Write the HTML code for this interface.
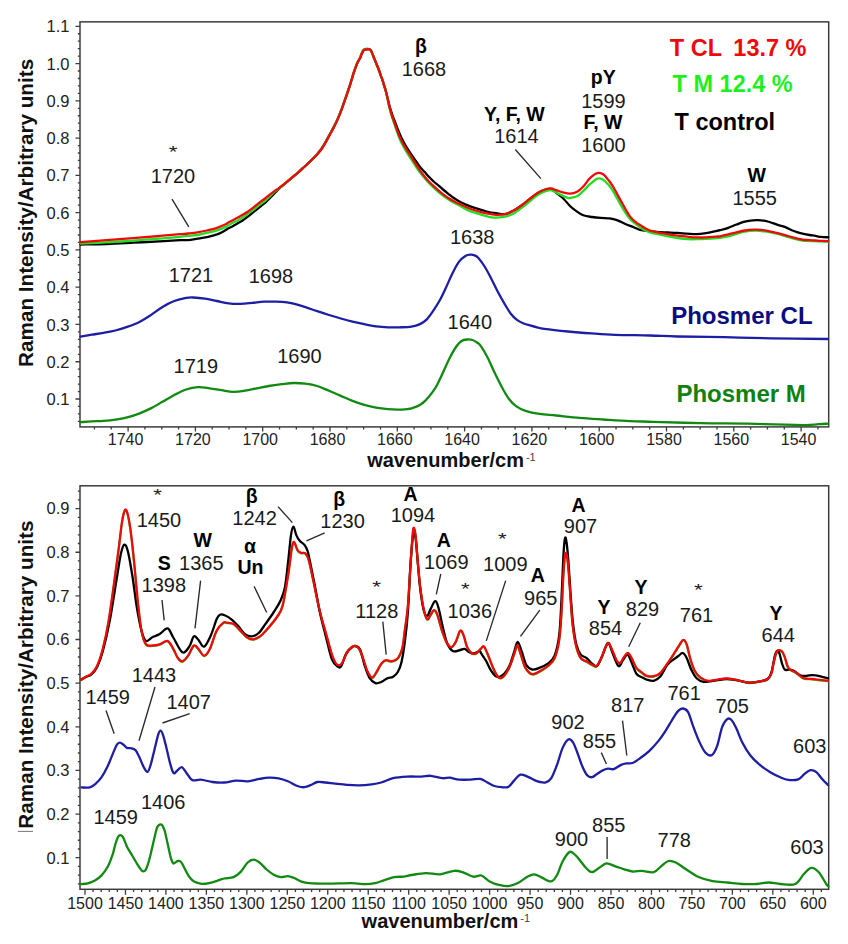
<!DOCTYPE html><html><head><meta charset="utf-8"><style>html,body{margin:0;padding:0;background:#fff;}svg{display:block}text{font-family:"Liberation Sans",sans-serif;}</style></head><body>
<svg width="848" height="944" viewBox="0 0 848 944">
<rect width="848" height="944" fill="#fff"/>
<path d="M77.80 421.36H80.00M77.80 413.91H80.00M77.80 406.45H80.00M75.50 399.00H80.00M77.80 391.55H80.00M77.80 384.09H80.00M77.80 376.64H80.00M77.80 369.18H80.00M75.50 361.73H80.00M77.80 354.28H80.00M77.80 346.82H80.00M77.80 339.37H80.00M77.80 331.91H80.00M75.50 324.46H80.00M77.80 317.01H80.00M77.80 309.55H80.00M77.80 302.10H80.00M77.80 294.64H80.00M75.50 287.19H80.00M77.80 279.74H80.00M77.80 272.28H80.00M77.80 264.83H80.00M77.80 257.37H80.00M75.50 249.92H80.00M77.80 242.47H80.00M77.80 235.01H80.00M77.80 227.56H80.00M77.80 220.10H80.00M75.50 212.65H80.00M77.80 205.20H80.00M77.80 197.74H80.00M77.80 190.29H80.00M77.80 182.83H80.00M75.50 175.38H80.00M77.80 167.93H80.00M77.80 160.47H80.00M77.80 153.02H80.00M77.80 145.56H80.00M75.50 138.11H80.00M77.80 130.66H80.00M77.80 123.20H80.00M77.80 115.75H80.00M77.80 108.29H80.00M75.50 100.84H80.00M77.80 93.39H80.00M77.80 85.93H80.00M77.80 78.48H80.00M77.80 71.02H80.00M75.50 63.57H80.00M77.80 56.12H80.00M77.80 48.66H80.00M77.80 41.21H80.00M77.80 33.75H80.00M75.50 26.30H80.00M94.45 426.90V429.40M111.27 426.90V429.40M128.10 426.90V431.40M144.92 426.90V429.40M161.75 426.90V429.40M178.57 426.90V429.40M195.40 426.90V431.40M212.22 426.90V429.40M229.05 426.90V429.40M245.88 426.90V429.40M262.70 426.90V431.40M279.52 426.90V429.40M296.35 426.90V429.40M313.18 426.90V429.40M330.00 426.90V431.40M346.82 426.90V429.40M363.65 426.90V429.40M380.48 426.90V429.40M397.30 426.90V431.40M414.12 426.90V429.40M430.95 426.90V429.40M447.77 426.90V429.40M464.60 426.90V431.40M481.43 426.90V429.40M498.25 426.90V429.40M515.08 426.90V429.40M531.90 426.90V431.40M548.73 426.90V429.40M565.55 426.90V429.40M582.38 426.90V429.40M599.20 426.90V431.40M616.03 426.90V429.40M632.85 426.90V429.40M649.67 426.90V429.40M666.50 426.90V431.40M683.33 426.90V429.40M700.15 426.90V429.40M716.98 426.90V429.40M733.80 426.90V431.40M750.62 426.90V429.40M767.45 426.90V429.40M784.28 426.90V429.40M801.10 426.90V431.40M817.92 426.90V429.40M77.80 883.90H80.00M77.80 875.18H80.00M77.80 866.45H80.00M75.50 857.72H80.00M77.80 848.99H80.00M77.80 840.26H80.00M77.80 831.54H80.00M77.80 822.81H80.00M75.50 814.08H80.00M77.80 805.35H80.00M77.80 796.62H80.00M77.80 787.90H80.00M77.80 779.17H80.00M75.50 770.44H80.00M77.80 761.71H80.00M77.80 752.98H80.00M77.80 744.26H80.00M77.80 735.53H80.00M75.50 726.80H80.00M77.80 718.07H80.00M77.80 709.34H80.00M77.80 700.62H80.00M77.80 691.89H80.00M75.50 683.16H80.00M77.80 674.43H80.00M77.80 665.70H80.00M77.80 656.98H80.00M77.80 648.25H80.00M75.50 639.52H80.00M77.80 630.79H80.00M77.80 622.06H80.00M77.80 613.34H80.00M77.80 604.61H80.00M75.50 595.88H80.00M77.80 587.15H80.00M77.80 578.42H80.00M77.80 569.70H80.00M77.80 560.97H80.00M75.50 552.24H80.00M77.80 543.51H80.00M77.80 534.78H80.00M77.80 526.06H80.00M77.80 517.33H80.00M75.50 508.60H80.00M77.80 499.87H80.00M77.80 491.14H80.00M85.00 889.30V894.80M93.09 889.30V892.00M101.18 889.30V892.00M109.28 889.30V892.00M117.37 889.30V892.00M125.46 889.30V894.80M133.55 889.30V892.00M141.64 889.30V892.00M149.74 889.30V892.00M157.83 889.30V892.00M165.92 889.30V894.80M174.01 889.30V892.00M182.10 889.30V892.00M190.20 889.30V892.00M198.29 889.30V892.00M206.38 889.30V894.80M214.47 889.30V892.00M222.56 889.30V892.00M230.66 889.30V892.00M238.75 889.30V892.00M246.84 889.30V894.80M254.93 889.30V892.00M263.02 889.30V892.00M271.12 889.30V892.00M279.21 889.30V892.00M287.30 889.30V894.80M295.39 889.30V892.00M303.48 889.30V892.00M311.58 889.30V892.00M319.67 889.30V892.00M327.76 889.30V894.80M335.85 889.30V892.00M343.94 889.30V892.00M352.04 889.30V892.00M360.13 889.30V892.00M368.22 889.30V894.80M376.31 889.30V892.00M384.40 889.30V892.00M392.50 889.30V892.00M400.59 889.30V892.00M408.68 889.30V894.80M416.77 889.30V892.00M424.86 889.30V892.00M432.96 889.30V892.00M441.05 889.30V892.00M449.14 889.30V894.80M457.23 889.30V892.00M465.32 889.30V892.00M473.42 889.30V892.00M481.51 889.30V892.00M489.60 889.30V894.80M497.69 889.30V892.00M505.78 889.30V892.00M513.88 889.30V892.00M521.97 889.30V892.00M530.06 889.30V894.80M538.15 889.30V892.00M546.24 889.30V892.00M554.34 889.30V892.00M562.43 889.30V892.00M570.52 889.30V894.80M578.61 889.30V892.00M586.70 889.30V892.00M594.80 889.30V892.00M602.89 889.30V892.00M610.98 889.30V894.80M619.07 889.30V892.00M627.16 889.30V892.00M635.26 889.30V892.00M643.35 889.30V892.00M651.44 889.30V894.80M659.53 889.30V892.00M667.62 889.30V892.00M675.72 889.30V892.00M683.81 889.30V892.00M691.90 889.30V894.80M699.99 889.30V892.00M708.08 889.30V892.00M716.18 889.30V892.00M724.27 889.30V892.00M732.36 889.30V894.80M740.45 889.30V892.00M748.54 889.30V892.00M756.64 889.30V892.00M764.73 889.30V892.00M772.82 889.30V894.80M780.91 889.30V892.00M789.00 889.30V892.00M797.10 889.30V892.00M805.19 889.30V892.00M813.28 889.30V894.80M821.37 889.30V892.00" stroke="#3c3c3c" stroke-width="1.3" fill="none"/>
<rect x="80.00" y="21.85" width="748.70" height="405.05" fill="none" stroke="#3c3c3c" stroke-width="1.5"/>
<rect x="80.00" y="485.80" width="748.70" height="403.50" fill="none" stroke="#3c3c3c" stroke-width="1.5"/>
<text x="69.4" y="405.10" text-anchor="end" font-size="16.5" fill="#222">0.1</text>
<text x="69.4" y="367.83" text-anchor="end" font-size="16.5" fill="#222">0.2</text>
<text x="69.4" y="330.56" text-anchor="end" font-size="16.5" fill="#222">0.3</text>
<text x="69.4" y="293.29" text-anchor="end" font-size="16.5" fill="#222">0.4</text>
<text x="69.4" y="256.02" text-anchor="end" font-size="16.5" fill="#222">0.5</text>
<text x="69.4" y="218.75" text-anchor="end" font-size="16.5" fill="#222">0.6</text>
<text x="69.4" y="181.48" text-anchor="end" font-size="16.5" fill="#222">0.7</text>
<text x="69.4" y="144.21" text-anchor="end" font-size="16.5" fill="#222">0.8</text>
<text x="69.4" y="106.94" text-anchor="end" font-size="16.5" fill="#222">0.9</text>
<text x="69.4" y="69.67" text-anchor="end" font-size="16.5" fill="#222">1.0</text>
<text x="69.4" y="32.40" text-anchor="end" font-size="16.5" fill="#222">1.1</text>
<text x="125.60" y="445.1" text-anchor="middle" font-size="16" fill="#222">1740</text>
<text x="192.90" y="445.1" text-anchor="middle" font-size="16" fill="#222">1720</text>
<text x="260.20" y="445.1" text-anchor="middle" font-size="16" fill="#222">1700</text>
<text x="327.50" y="445.1" text-anchor="middle" font-size="16" fill="#222">1680</text>
<text x="394.80" y="445.1" text-anchor="middle" font-size="16" fill="#222">1660</text>
<text x="462.10" y="445.1" text-anchor="middle" font-size="16" fill="#222">1640</text>
<text x="529.40" y="445.1" text-anchor="middle" font-size="16" fill="#222">1620</text>
<text x="596.70" y="445.1" text-anchor="middle" font-size="16" fill="#222">1600</text>
<text x="664.00" y="445.1" text-anchor="middle" font-size="16" fill="#222">1580</text>
<text x="731.30" y="445.1" text-anchor="middle" font-size="16" fill="#222">1560</text>
<text x="798.60" y="445.1" text-anchor="middle" font-size="16" fill="#222">1540</text>
<text x="69.4" y="863.52" text-anchor="end" font-size="16.5" fill="#222">0.1</text>
<text x="69.4" y="819.88" text-anchor="end" font-size="16.5" fill="#222">0.2</text>
<text x="69.4" y="776.24" text-anchor="end" font-size="16.5" fill="#222">0.3</text>
<text x="69.4" y="732.60" text-anchor="end" font-size="16.5" fill="#222">0.4</text>
<text x="69.4" y="688.96" text-anchor="end" font-size="16.5" fill="#222">0.5</text>
<text x="69.4" y="645.32" text-anchor="end" font-size="16.5" fill="#222">0.6</text>
<text x="69.4" y="601.68" text-anchor="end" font-size="16.5" fill="#222">0.7</text>
<text x="69.4" y="558.04" text-anchor="end" font-size="16.5" fill="#222">0.8</text>
<text x="69.4" y="514.40" text-anchor="end" font-size="16.5" fill="#222">0.9</text>
<text x="85.00" y="908.6" text-anchor="middle" font-size="16" fill="#222">1500</text>
<text x="125.46" y="908.6" text-anchor="middle" font-size="16" fill="#222">1450</text>
<text x="165.92" y="908.6" text-anchor="middle" font-size="16" fill="#222">1400</text>
<text x="206.38" y="908.6" text-anchor="middle" font-size="16" fill="#222">1350</text>
<text x="246.84" y="908.6" text-anchor="middle" font-size="16" fill="#222">1300</text>
<text x="287.30" y="908.6" text-anchor="middle" font-size="16" fill="#222">1250</text>
<text x="327.76" y="908.6" text-anchor="middle" font-size="16" fill="#222">1200</text>
<text x="368.22" y="908.6" text-anchor="middle" font-size="16" fill="#222">1150</text>
<text x="408.68" y="908.6" text-anchor="middle" font-size="16" fill="#222">1100</text>
<text x="449.14" y="908.6" text-anchor="middle" font-size="16" fill="#222">1050</text>
<text x="489.60" y="908.6" text-anchor="middle" font-size="16" fill="#222">1000</text>
<text x="530.06" y="908.6" text-anchor="middle" font-size="16" fill="#222">950</text>
<text x="570.52" y="908.6" text-anchor="middle" font-size="16" fill="#222">900</text>
<text x="610.98" y="908.6" text-anchor="middle" font-size="16" fill="#222">850</text>
<text x="651.44" y="908.6" text-anchor="middle" font-size="16" fill="#222">800</text>
<text x="691.90" y="908.6" text-anchor="middle" font-size="16" fill="#222">750</text>
<text x="732.36" y="908.6" text-anchor="middle" font-size="16" fill="#222">700</text>
<text x="772.82" y="908.6" text-anchor="middle" font-size="16" fill="#222">650</text>
<text x="813.28" y="908.6" text-anchor="middle" font-size="16" fill="#222">600</text>
<text x="367.2" y="466.9" font-size="20" font-weight="bold" fill="#111">wavenumber/cm<tspan font-size="11" font-weight="normal" fill="#444" dx="2" dy="-6.3">-1</tspan></text>
<text x="361.6" y="928.2" font-size="20" font-weight="bold" fill="#111">wavenumber/cm<tspan font-size="11" font-weight="normal" fill="#444" dx="2" dy="-6.3">-1</tspan></text>
<text transform="translate(32.8 212.9) rotate(-90)" text-anchor="middle" font-size="20.7" font-weight="bold" fill="#111">Raman Intensity/Arbitrary units</text>
<text transform="translate(32.8 674.6) rotate(-90)" text-anchor="middle" font-size="20.7" font-weight="bold" fill="#111">Raman Intensity/Arbitrary units</text>
<path d="M17.8 831.4H33" stroke="#777" stroke-width="1"/>
<path d="M80.50 422.20 C82.38 422.07 87.95 421.62 91.80 421.40 C95.65 421.18 99.67 421.18 103.60 420.90 C107.53 420.62 111.47 420.28 115.40 419.70 C119.33 419.12 123.27 418.42 127.20 417.40 C131.13 416.38 135.07 415.10 139.00 413.60 C142.93 412.10 146.88 410.37 150.80 408.40 C154.72 406.43 158.58 404.03 162.50 401.80 C166.42 399.57 170.37 397.05 174.30 395.00 C178.23 392.95 182.17 390.80 186.10 389.50 C190.03 388.20 193.97 387.40 197.90 387.20 C201.83 387.00 205.77 387.80 209.70 388.30 C213.63 388.80 217.57 389.60 221.50 390.20 C225.43 390.80 229.37 391.82 233.30 391.90 C237.23 391.98 241.17 391.30 245.10 390.70 C249.03 390.10 252.97 389.08 256.90 388.30 C260.83 387.52 264.55 386.68 268.70 386.00 C272.85 385.32 277.65 384.70 281.80 384.20 C285.95 383.70 289.67 383.08 293.60 383.00 C297.53 382.92 301.47 383.20 305.40 383.70 C309.33 384.20 313.27 384.82 317.20 386.00 C321.13 387.18 325.07 389.15 329.00 390.80 C332.93 392.45 336.88 394.22 340.80 395.90 C344.72 397.58 348.58 399.40 352.50 400.90 C356.42 402.40 360.37 403.77 364.30 404.90 C368.23 406.03 372.17 406.98 376.10 407.70 C380.03 408.42 383.97 408.88 387.90 409.20 C391.83 409.52 395.77 409.73 399.70 409.60 C403.63 409.47 407.57 409.58 411.50 408.40 C415.43 407.22 419.37 405.83 423.30 402.50 C427.23 399.17 431.95 393.12 435.10 388.40 C438.25 383.68 439.85 379.12 442.20 374.20 C444.55 369.28 446.85 363.52 449.20 358.90 C451.55 354.28 454.25 349.48 456.30 346.50 C458.35 343.52 459.72 342.17 461.50 341.00 C463.28 339.83 465.18 339.67 467.00 339.50 C468.82 339.33 470.73 339.50 472.40 340.00 C474.07 340.50 475.62 341.52 477.00 342.50 C478.38 343.48 478.92 343.37 480.70 345.90 C482.48 348.43 485.35 353.17 487.70 357.70 C490.05 362.23 492.43 368.18 494.80 373.10 C497.17 378.02 499.53 382.88 501.90 387.20 C504.27 391.52 506.65 395.85 509.00 399.00 C511.35 402.15 513.25 404.13 516.00 406.10 C518.75 408.07 521.57 409.50 525.50 410.80 C529.43 412.10 534.50 413.12 539.60 413.90 C544.70 414.68 549.42 414.83 556.10 415.50 C562.78 416.17 571.83 417.23 579.70 417.90 C587.57 418.57 594.92 418.97 603.30 419.50 C611.68 420.03 621.62 420.72 630.00 421.10 C638.38 421.48 641.80 421.45 653.60 421.80 C665.40 422.15 685.08 422.88 700.80 423.20 C716.52 423.52 732.20 423.42 747.90 423.70 C763.60 423.98 785.17 424.67 795.00 424.90 C804.83 425.13 802.95 425.22 806.90 425.10 C810.85 424.98 815.18 424.43 818.70 424.20 C822.22 423.97 826.45 423.78 828.00 423.70" stroke="#108a10" stroke-width="2.30" fill="none" stroke-linejoin="round" stroke-linecap="round"/>
<path d="M80.50 336.60 C82.38 336.28 87.95 335.33 91.80 334.70 C95.65 334.07 99.67 333.50 103.60 332.80 C107.53 332.10 111.47 331.48 115.40 330.50 C119.33 329.52 123.27 328.28 127.20 326.90 C131.13 325.52 135.07 324.17 139.00 322.20 C142.93 320.23 146.88 317.65 150.80 315.10 C154.72 312.55 158.58 309.25 162.50 306.90 C166.42 304.55 170.37 302.50 174.30 301.00 C178.23 299.50 182.95 298.48 186.10 297.90 C189.25 297.32 190.05 297.38 193.20 297.50 C196.35 297.62 201.07 298.02 205.00 298.60 C208.93 299.18 212.87 300.22 216.80 301.00 C220.73 301.78 224.67 302.83 228.60 303.30 C232.53 303.77 236.47 303.87 240.40 303.80 C244.33 303.73 248.27 303.25 252.20 302.90 C256.13 302.55 260.03 301.92 264.00 301.70 C267.97 301.48 272.17 301.50 276.00 301.60 C279.83 301.70 284.07 301.95 287.00 302.30 C289.93 302.65 290.53 302.88 293.60 303.70 C296.67 304.52 301.47 305.95 305.40 307.20 C309.33 308.45 313.27 309.90 317.20 311.20 C321.13 312.50 325.07 313.78 329.00 315.00 C332.93 316.22 336.88 317.40 340.80 318.50 C344.72 319.60 348.58 320.65 352.50 321.60 C356.42 322.55 360.37 323.42 364.30 324.20 C368.23 324.98 372.17 325.78 376.10 326.30 C380.03 326.82 383.97 327.13 387.90 327.30 C391.83 327.47 395.77 327.42 399.70 327.30 C403.63 327.18 408.12 327.13 411.50 326.60 C414.88 326.07 417.50 325.27 420.00 324.10 C422.50 322.93 424.33 321.77 426.50 319.60 C428.67 317.43 430.83 314.23 433.00 311.10 C435.17 307.97 437.35 304.68 439.50 300.80 C441.65 296.92 443.75 292.35 445.90 287.80 C448.05 283.25 450.23 277.82 452.40 273.50 C454.57 269.18 456.73 264.82 458.90 261.90 C461.07 258.98 463.45 257.20 465.40 256.00 C467.35 254.80 469.08 254.80 470.60 254.70 C472.12 254.60 473.20 254.85 474.50 255.40 C475.80 255.95 476.67 256.07 478.40 258.00 C480.13 259.93 482.75 263.55 484.90 267.00 C487.05 270.45 489.15 274.58 491.30 278.70 C493.45 282.82 495.63 287.58 497.80 291.70 C499.97 295.82 502.13 299.73 504.30 303.40 C506.47 307.07 508.63 310.90 510.80 313.70 C512.97 316.50 515.13 318.57 517.30 320.20 C519.47 321.83 521.68 322.63 523.80 323.50 C525.92 324.37 527.80 324.77 530.00 325.40 C532.20 326.03 534.62 326.72 537.00 327.30 C539.38 327.88 539.15 328.20 544.30 328.90 C549.45 329.60 560.03 330.75 567.90 331.50 C575.77 332.25 583.63 332.85 591.50 333.40 C599.37 333.95 605.35 334.45 615.10 334.80 C624.85 335.15 639.65 335.22 650.00 335.50 C660.35 335.78 664.82 336.22 677.20 336.50 C689.58 336.78 708.58 336.90 724.30 337.20 C740.02 337.50 754.22 338.00 771.50 338.30 C788.78 338.60 818.58 338.88 828.00 339.00" stroke="#1e1ea4" stroke-width="2.30" fill="none" stroke-linejoin="round" stroke-linecap="round"/>
<path d="M80.50 244.50 C84.83 244.42 97.73 244.30 106.50 244.00 C115.27 243.70 124.25 243.15 133.10 242.70 C141.95 242.25 151.78 241.72 159.60 241.30 C167.42 240.88 175.27 240.40 180.00 240.20 C184.73 240.00 185.10 240.35 188.00 240.10 C190.90 239.85 194.25 239.20 197.40 238.70 C200.55 238.20 203.75 237.77 206.90 237.10 C210.05 236.43 213.78 235.50 216.30 234.70 C218.82 233.90 220.05 233.33 222.00 232.30 C223.95 231.27 226.22 229.50 228.00 228.50 C229.78 227.50 231.13 227.13 232.70 226.30 C234.27 225.47 235.82 224.43 237.40 223.50 C238.98 222.57 240.62 221.72 242.20 220.70 C243.78 219.68 245.33 218.58 246.90 217.40 C248.47 216.22 250.03 214.87 251.60 213.60 C253.17 212.33 254.73 211.07 256.30 209.80 C257.87 208.53 259.43 207.25 261.00 206.00 C262.57 204.75 264.25 203.60 265.70 202.30 C267.15 201.00 268.25 199.67 269.70 198.20 C271.15 196.73 272.82 195.10 274.40 193.50 C275.98 191.90 277.62 190.08 279.20 188.60 C280.78 187.12 282.33 185.93 283.90 184.60 C285.47 183.27 287.03 181.93 288.60 180.60 C290.17 179.27 291.73 177.93 293.30 176.60 C294.87 175.27 296.43 174.00 298.00 172.60 C299.57 171.20 301.12 169.65 302.70 168.20 C304.28 166.75 305.83 165.45 307.50 163.90 C309.17 162.35 311.03 160.60 312.70 158.90 C314.37 157.20 315.95 155.52 317.50 153.70 C319.05 151.88 320.62 150.02 322.00 148.00 C323.38 145.98 324.53 143.83 325.80 141.60 C327.07 139.37 328.33 136.93 329.60 134.60 C330.87 132.27 332.13 130.05 333.40 127.60 C334.67 125.15 335.80 123.02 337.20 119.90 C338.60 116.78 340.33 112.75 341.80 108.90 C343.27 105.05 344.58 100.93 346.00 96.80 C347.42 92.67 349.03 88.05 350.30 84.10 C351.57 80.15 352.48 76.50 353.60 73.10 C354.72 69.70 355.93 66.17 357.00 63.70 C358.07 61.23 359.23 59.90 360.00 58.30 C360.77 56.70 360.98 55.47 361.60 54.10 C362.22 52.73 362.90 50.90 363.70 50.10 C364.50 49.30 365.43 49.43 366.40 49.30 C367.37 49.17 368.72 49.03 369.50 49.30 C370.28 49.57 370.57 50.02 371.10 50.90 C371.63 51.78 372.08 53.10 372.70 54.60 C373.32 56.10 374.08 58.13 374.80 59.90 C375.52 61.67 376.28 63.43 377.00 65.20 C377.72 66.97 378.45 68.73 379.10 70.50 C379.75 72.27 380.28 74.03 380.90 75.80 C381.52 77.57 382.22 79.33 382.80 81.10 C383.38 82.87 383.87 84.63 384.40 86.40 C384.93 88.17 385.43 89.60 386.00 91.70 C386.57 93.80 387.15 96.38 387.80 99.00 C388.45 101.62 389.15 104.77 389.90 107.40 C390.65 110.03 391.42 112.32 392.30 114.80 C393.18 117.28 394.25 119.82 395.20 122.30 C396.15 124.78 397.02 127.23 398.00 129.70 C398.98 132.17 399.93 134.63 401.10 137.10 C402.27 139.57 403.58 142.03 405.00 144.50 C406.42 146.97 407.98 149.43 409.60 151.90 C411.22 154.37 412.97 156.80 414.70 159.30 C416.43 161.80 418.33 164.77 420.00 166.90 C421.67 169.03 423.13 170.37 424.70 172.10 C426.27 173.83 427.82 175.65 429.40 177.30 C430.98 178.95 432.62 180.58 434.20 182.00 C435.78 183.42 437.33 184.47 438.90 185.80 C440.47 187.13 442.03 188.67 443.60 190.00 C445.17 191.33 446.73 192.55 448.30 193.80 C449.87 195.05 451.43 196.40 453.00 197.50 C454.57 198.60 455.25 199.08 457.70 200.40 C460.15 201.72 464.45 204.02 467.70 205.40 C470.95 206.78 474.05 207.68 477.20 208.70 C480.35 209.72 483.47 210.75 486.60 211.50 C489.73 212.25 492.93 212.77 496.00 213.20 C499.07 213.63 502.12 214.50 505.00 214.10 C507.88 213.70 510.55 212.23 513.30 210.80 C516.05 209.37 518.75 207.48 521.50 205.50 C524.25 203.52 527.05 201.00 529.80 198.90 C532.55 196.80 535.25 194.50 538.00 192.90 C540.75 191.30 544.10 189.95 546.30 189.30 C548.50 188.65 549.83 188.65 551.20 189.00 C552.57 189.35 552.57 189.90 554.50 191.40 C556.43 192.90 560.22 195.57 562.80 198.00 C565.38 200.43 567.92 203.93 570.00 206.00 C572.08 208.07 573.08 208.85 575.30 210.40 C577.52 211.95 580.50 214.20 583.30 215.30 C586.10 216.40 589.17 216.57 592.10 217.00 C595.03 217.43 597.95 217.67 600.90 217.90 C603.85 218.13 607.13 218.03 609.80 218.40 C612.47 218.77 614.40 219.22 616.90 220.10 C619.40 220.98 622.00 222.52 624.80 223.70 C627.60 224.88 631.17 226.18 633.70 227.20 C636.23 228.22 637.38 229.13 640.00 229.80 C642.62 230.47 646.25 230.80 649.40 231.20 C652.55 231.60 655.75 231.98 658.90 232.20 C662.05 232.42 665.17 232.38 668.30 232.50 C671.43 232.62 674.55 232.72 677.70 232.90 C680.85 233.08 684.05 233.40 687.20 233.60 C690.35 233.80 693.47 234.18 696.60 234.10 C699.73 234.02 702.85 233.58 706.00 233.10 C709.15 232.62 713.17 231.68 715.50 231.20 C717.83 230.72 717.87 230.77 720.00 230.20 C722.13 229.63 725.55 228.75 728.30 227.80 C731.05 226.85 733.75 225.53 736.50 224.50 C739.25 223.47 742.05 222.30 744.80 221.60 C747.55 220.90 750.25 220.52 753.00 220.30 C755.75 220.08 758.55 220.02 761.30 220.30 C764.05 220.58 766.75 221.23 769.50 222.00 C772.25 222.77 775.07 224.00 777.80 224.90 C780.53 225.80 783.57 226.50 785.90 227.40 C788.23 228.30 789.83 229.47 791.80 230.30 C793.77 231.13 795.73 231.80 797.70 232.40 C799.67 233.00 801.63 233.47 803.60 233.90 C805.57 234.33 807.53 234.67 809.50 235.00 C811.47 235.33 813.43 235.58 815.40 235.90 C817.37 236.22 819.15 236.67 821.30 236.90 C823.45 237.13 827.13 237.23 828.30 237.30" stroke="#000000" stroke-width="2.30" fill="none" stroke-linejoin="round" stroke-linecap="round"/>
<path d="M80.50 243.50 C84.83 243.32 97.73 242.88 106.50 242.40 C115.27 241.92 124.25 241.23 133.10 240.60 C141.95 239.97 151.78 239.23 159.60 238.60 C167.42 237.97 175.27 237.25 180.00 236.80 C184.73 236.35 185.10 236.20 188.00 235.90 C190.90 235.60 194.25 235.52 197.40 235.00 C200.55 234.48 203.75 233.52 206.90 232.80 C210.05 232.08 213.17 231.68 216.30 230.70 C219.43 229.72 222.97 228.22 225.70 226.90 C228.43 225.58 230.75 223.83 232.70 222.80 C234.65 221.77 235.82 221.57 237.40 220.70 C238.98 219.83 240.62 218.63 242.20 217.60 C243.78 216.57 245.33 215.60 246.90 214.50 C248.47 213.40 250.03 212.17 251.60 211.00 C253.17 209.83 254.73 208.68 256.30 207.50 C257.87 206.32 259.43 205.08 261.00 203.90 C262.57 202.72 264.25 201.62 265.70 200.40 C267.15 199.18 268.25 198.00 269.70 196.60 C271.15 195.20 272.82 193.38 274.40 192.00 C275.98 190.62 277.62 189.57 279.20 188.30 C280.78 187.03 282.33 185.72 283.90 184.40 C285.47 183.08 287.03 181.72 288.60 180.40 C290.17 179.08 291.73 177.78 293.30 176.50 C294.87 175.22 296.43 174.07 298.00 172.70 C299.57 171.33 301.12 169.75 302.70 168.30 C304.28 166.85 305.83 165.55 307.50 164.00 C309.17 162.45 311.02 160.72 312.70 159.00 C314.38 157.28 316.03 155.53 317.60 153.70 C319.17 151.87 320.72 150.02 322.10 148.00 C323.48 145.98 324.63 143.83 325.90 141.60 C327.17 139.37 328.43 136.93 329.70 134.60 C330.97 132.27 332.23 130.05 333.50 127.60 C334.77 125.15 335.92 123.02 337.30 119.90 C338.68 116.78 340.35 112.75 341.80 108.90 C343.25 105.05 344.58 100.93 346.00 96.80 C347.42 92.67 349.03 88.05 350.30 84.10 C351.57 80.15 352.48 76.50 353.60 73.10 C354.72 69.70 355.93 66.30 357.00 63.70 C358.07 61.10 359.23 59.23 360.00 57.50 C360.77 55.77 360.98 54.62 361.60 53.30 C362.22 51.98 362.90 50.38 363.70 49.60 C364.50 48.82 365.43 48.70 366.40 48.60 C367.37 48.50 368.72 48.62 369.50 49.00 C370.28 49.38 370.57 49.97 371.10 50.90 C371.63 51.83 372.08 53.10 372.70 54.60 C373.32 56.10 374.08 58.13 374.80 59.90 C375.52 61.67 376.28 63.43 377.00 65.20 C377.72 66.97 378.45 68.73 379.10 70.50 C379.75 72.27 380.28 74.03 380.90 75.80 C381.52 77.57 382.22 79.33 382.80 81.10 C383.38 82.87 383.87 84.63 384.40 86.40 C384.93 88.17 385.47 89.57 386.00 91.70 C386.53 93.83 387.03 96.52 387.60 99.20 C388.17 101.88 388.75 105.10 389.40 107.80 C390.05 110.50 390.73 112.87 391.50 115.40 C392.27 117.93 393.15 120.47 394.00 123.00 C394.85 125.53 395.70 128.07 396.60 130.60 C397.50 133.13 398.33 135.67 399.40 138.20 C400.47 140.73 401.67 143.27 403.00 145.80 C404.33 148.33 405.87 150.90 407.40 153.40 C408.93 155.90 410.47 158.10 412.20 160.80 C413.93 163.50 415.72 166.70 417.80 169.60 C419.88 172.50 422.77 175.90 424.70 178.20 C426.63 180.50 427.82 181.75 429.40 183.40 C430.98 185.05 432.62 186.62 434.20 188.10 C435.78 189.58 437.33 190.97 438.90 192.30 C440.47 193.63 442.03 194.92 443.60 196.10 C445.17 197.28 446.73 198.38 448.30 199.40 C449.87 200.42 451.43 201.33 453.00 202.20 C454.57 203.07 455.25 203.28 457.70 204.60 C460.15 205.92 464.45 208.63 467.70 210.10 C470.95 211.57 474.05 212.38 477.20 213.40 C480.35 214.42 483.77 215.50 486.60 216.20 C489.43 216.90 491.13 217.53 494.20 217.60 C497.27 217.67 501.82 217.25 505.00 216.60 C508.18 215.95 510.55 215.15 513.30 213.70 C516.05 212.25 518.75 209.97 521.50 207.90 C524.25 205.83 527.05 203.50 529.80 201.30 C532.55 199.10 535.25 196.42 538.00 194.70 C540.75 192.98 544.10 191.75 546.30 191.00 C548.50 190.25 549.13 189.72 551.20 190.20 C553.27 190.68 556.08 192.67 558.70 193.90 C561.32 195.13 565.02 196.92 566.90 197.60 C568.78 198.28 568.30 198.22 570.00 198.00 C571.70 197.78 574.88 197.47 577.10 196.30 C579.32 195.13 581.10 193.07 583.30 191.00 C585.50 188.93 587.95 185.97 590.30 183.90 C592.65 181.83 595.33 179.33 597.40 178.60 C599.47 177.87 600.93 178.55 602.70 179.50 C604.47 180.45 606.38 182.53 608.00 184.30 C609.62 186.07 610.92 187.82 612.40 190.10 C613.88 192.38 615.42 195.35 616.90 198.00 C618.38 200.65 619.83 203.50 621.30 206.00 C622.77 208.50 623.93 210.50 625.70 213.00 C627.47 215.50 629.68 218.78 631.90 221.00 C634.12 223.22 637.65 225.22 639.00 226.30 C640.35 227.38 638.27 226.52 640.00 227.50 C641.73 228.48 646.25 231.03 649.40 232.20 C652.55 233.37 655.75 233.80 658.90 234.50 C662.05 235.20 665.17 235.82 668.30 236.40 C671.43 236.98 674.55 237.55 677.70 238.00 C680.85 238.45 684.05 238.90 687.20 239.10 C690.35 239.30 693.47 239.25 696.60 239.20 C699.73 239.15 702.10 239.03 706.00 238.80 C709.90 238.57 716.28 238.20 720.00 237.80 C723.72 237.40 725.55 237.05 728.30 236.40 C731.05 235.75 733.75 234.70 736.50 233.90 C739.25 233.10 741.77 232.15 744.80 231.60 C747.83 231.05 751.95 230.68 754.70 230.60 C757.45 230.52 758.83 230.83 761.30 231.10 C763.77 231.37 766.75 231.72 769.50 232.20 C772.25 232.68 775.07 233.32 777.80 234.00 C780.53 234.68 783.57 235.62 785.90 236.30 C788.23 236.98 789.83 237.55 791.80 238.10 C793.77 238.65 795.73 239.15 797.70 239.60 C799.67 240.05 801.63 240.57 803.60 240.80 C805.57 241.03 807.53 240.93 809.50 241.00 C811.47 241.07 813.43 241.13 815.40 241.20 C817.37 241.27 819.15 241.33 821.30 241.40 C823.45 241.47 827.13 241.57 828.30 241.60" stroke="#22dd22" stroke-width="2.30" fill="none" stroke-linejoin="round" stroke-linecap="round"/>
<path d="M80.50 242.20 C84.83 241.85 97.73 240.78 106.50 240.10 C115.27 239.42 124.25 238.78 133.10 238.10 C141.95 237.42 151.78 236.65 159.60 236.00 C167.42 235.35 175.27 234.62 180.00 234.20 C184.73 233.78 185.10 233.80 188.00 233.50 C190.90 233.20 194.25 232.90 197.40 232.40 C200.55 231.90 203.75 231.22 206.90 230.50 C210.05 229.78 213.17 229.13 216.30 228.10 C219.43 227.07 223.75 225.18 225.70 224.30 C227.65 223.42 226.83 223.48 228.00 222.80 C229.17 222.12 231.13 221.03 232.70 220.20 C234.27 219.37 235.82 218.67 237.40 217.80 C238.98 216.93 240.62 215.93 242.20 215.00 C243.78 214.07 245.33 213.22 246.90 212.20 C248.47 211.18 250.03 210.08 251.60 208.90 C253.17 207.72 254.73 206.37 256.30 205.10 C257.87 203.83 259.43 202.48 261.00 201.30 C262.57 200.12 264.25 199.12 265.70 198.00 C267.15 196.88 268.25 195.75 269.70 194.60 C271.15 193.45 272.82 192.23 274.40 191.10 C275.98 189.97 277.62 188.97 279.20 187.80 C280.78 186.63 282.33 185.35 283.90 184.10 C285.47 182.85 287.03 181.57 288.60 180.30 C290.17 179.03 291.73 177.77 293.30 176.50 C294.87 175.23 296.43 174.07 298.00 172.70 C299.57 171.33 301.12 169.75 302.70 168.30 C304.28 166.85 305.83 165.55 307.50 164.00 C309.17 162.45 310.98 160.72 312.70 159.00 C314.42 157.28 316.20 155.53 317.80 153.70 C319.40 151.87 320.92 150.02 322.30 148.00 C323.68 145.98 324.83 143.83 326.10 141.60 C327.37 139.37 328.63 136.93 329.90 134.60 C331.17 132.27 332.43 130.05 333.70 127.60 C334.97 125.15 336.15 123.02 337.50 119.90 C338.85 116.78 340.38 112.75 341.80 108.90 C343.22 105.05 344.58 100.93 346.00 96.80 C347.42 92.67 349.03 88.05 350.30 84.10 C351.57 80.15 352.48 76.50 353.60 73.10 C354.72 69.70 355.93 66.17 357.00 63.70 C358.07 61.23 359.23 59.90 360.00 58.30 C360.77 56.70 360.98 55.47 361.60 54.10 C362.22 52.73 362.90 50.90 363.70 50.10 C364.50 49.30 365.43 49.43 366.40 49.30 C367.37 49.17 368.72 49.03 369.50 49.30 C370.28 49.57 370.57 50.02 371.10 50.90 C371.63 51.78 372.08 53.10 372.70 54.60 C373.32 56.10 374.08 58.13 374.80 59.90 C375.52 61.67 376.28 63.43 377.00 65.20 C377.72 66.97 378.45 68.73 379.10 70.50 C379.75 72.27 380.28 74.03 380.90 75.80 C381.52 77.57 382.22 79.33 382.80 81.10 C383.38 82.87 383.87 84.63 384.40 86.40 C384.93 88.17 385.45 89.60 386.00 91.70 C386.55 93.80 387.10 96.38 387.70 99.00 C388.30 101.62 388.93 104.77 389.60 107.40 C390.27 110.03 390.92 112.32 391.70 114.80 C392.48 117.28 393.43 119.82 394.30 122.30 C395.17 124.78 395.98 127.23 396.90 129.70 C397.82 132.17 398.70 134.63 399.80 137.10 C400.90 139.57 402.13 142.03 403.50 144.50 C404.87 146.97 406.45 149.43 408.00 151.90 C409.55 154.37 411.07 156.58 412.80 159.30 C414.53 162.02 416.42 165.28 418.40 168.20 C420.38 171.12 422.87 174.50 424.70 176.80 C426.53 179.10 427.82 180.35 429.40 182.00 C430.98 183.65 432.62 185.22 434.20 186.70 C435.78 188.18 437.33 189.57 438.90 190.90 C440.47 192.23 442.03 193.52 443.60 194.70 C445.17 195.88 446.73 196.98 448.30 198.00 C449.87 199.02 451.43 199.93 453.00 200.80 C454.57 201.67 455.25 202.05 457.70 203.20 C460.15 204.35 464.45 206.40 467.70 207.70 C470.95 209.00 474.05 210.05 477.20 211.00 C480.35 211.95 483.47 212.77 486.60 213.40 C489.73 214.03 492.93 214.68 496.00 214.80 C499.07 214.92 502.12 214.77 505.00 214.10 C507.88 213.43 510.55 212.23 513.30 210.80 C516.05 209.37 518.75 207.48 521.50 205.50 C524.25 203.52 527.05 201.03 529.80 198.90 C532.55 196.77 535.25 194.35 538.00 192.70 C540.75 191.05 544.10 189.70 546.30 189.00 C548.50 188.30 549.55 188.30 551.20 188.50 C552.85 188.70 554.27 189.57 556.20 190.20 C558.13 190.83 560.50 191.73 562.80 192.30 C565.10 192.87 567.62 193.68 570.00 193.60 C572.38 193.52 574.88 192.98 577.10 191.80 C579.32 190.62 581.23 188.70 583.30 186.50 C585.37 184.30 587.30 180.80 589.50 178.60 C591.70 176.40 594.30 174.05 596.50 173.30 C598.70 172.55 600.78 173.07 602.70 174.10 C604.62 175.13 606.38 177.58 608.00 179.50 C609.62 181.42 610.92 183.25 612.40 185.60 C613.88 187.95 615.42 190.93 616.90 193.60 C618.38 196.27 619.83 198.95 621.30 201.60 C622.77 204.25 624.23 207.00 625.70 209.50 C627.17 212.00 628.48 214.53 630.10 216.60 C631.72 218.67 633.63 220.43 635.40 221.90 C637.17 223.37 639.15 224.40 640.70 225.40 C642.25 226.40 643.25 227.08 644.70 227.90 C646.15 228.72 647.03 229.52 649.40 230.30 C651.77 231.08 655.75 231.93 658.90 232.60 C662.05 233.27 665.17 233.78 668.30 234.30 C671.43 234.82 674.55 235.30 677.70 235.70 C680.85 236.10 684.05 236.42 687.20 236.70 C690.35 236.98 693.47 237.28 696.60 237.40 C699.73 237.52 702.85 237.53 706.00 237.40 C709.15 237.27 713.17 236.78 715.50 236.60 C717.83 236.42 717.87 236.67 720.00 236.30 C722.13 235.93 725.55 235.07 728.30 234.40 C731.05 233.73 733.75 232.95 736.50 232.30 C739.25 231.65 741.77 230.95 744.80 230.50 C747.83 230.05 751.95 229.72 754.70 229.60 C757.45 229.48 758.83 229.52 761.30 229.80 C763.77 230.08 766.75 230.75 769.50 231.30 C772.25 231.85 775.07 232.43 777.80 233.10 C780.53 233.77 783.57 234.63 785.90 235.30 C788.23 235.97 789.83 236.55 791.80 237.10 C793.77 237.65 795.73 238.15 797.70 238.60 C799.67 239.05 801.63 239.55 803.60 239.80 C805.57 240.05 807.53 239.98 809.50 240.10 C811.47 240.22 813.43 240.37 815.40 240.50 C817.37 240.63 819.15 240.80 821.30 240.90 C823.45 241.00 827.13 241.07 828.30 241.10" stroke="#ee0a0a" stroke-width="2.30" fill="none" stroke-linejoin="round" stroke-linecap="round"/>
<path d="M81.30 884.10 C82.40 883.97 85.70 883.85 87.90 883.30 C90.10 882.75 92.30 882.03 94.50 880.80 C96.70 879.57 98.90 878.23 101.10 875.90 C103.30 873.57 105.77 870.38 107.70 866.80 C109.63 863.22 111.48 857.95 112.70 854.40 C113.92 850.85 114.32 847.93 115.00 845.50 C115.68 843.07 116.23 841.32 116.80 839.80 C117.37 838.28 117.85 837.18 118.40 836.40 C118.95 835.62 119.53 835.20 120.10 835.10 C120.67 835.00 121.25 835.32 121.80 835.80 C122.35 836.28 122.78 836.80 123.40 838.00 C124.02 839.20 124.82 841.37 125.50 843.00 C126.18 844.63 126.33 845.63 127.50 847.80 C128.67 849.97 130.85 853.25 132.50 856.00 C134.15 858.75 136.03 862.10 137.40 864.30 C138.77 866.50 139.73 868.02 140.70 869.20 C141.67 870.38 142.37 871.30 143.20 871.40 C144.03 871.50 144.90 871.03 145.70 869.80 C146.50 868.57 147.18 866.57 148.00 864.00 C148.82 861.43 149.47 859.03 150.60 854.40 C151.73 849.77 153.70 840.73 154.80 836.20 C155.90 831.67 156.38 829.13 157.20 827.20 C158.02 825.27 158.87 824.92 159.70 824.60 C160.53 824.28 161.45 824.48 162.20 825.30 C162.95 826.12 163.65 828.05 164.20 829.50 C164.75 830.95 164.60 830.13 165.50 834.00 C166.40 837.87 168.60 848.37 169.60 852.70 C170.60 857.03 170.88 858.22 171.50 860.00 C172.12 861.78 172.65 863.00 173.30 863.40 C173.95 863.80 174.63 862.80 175.40 862.40 C176.17 862.00 177.07 861.17 177.90 861.00 C178.73 860.83 179.62 860.82 180.40 861.40 C181.18 861.98 181.23 862.08 182.60 864.50 C183.97 866.92 186.77 873.10 188.60 875.90 C190.43 878.70 191.40 879.98 193.60 881.30 C195.80 882.62 199.05 883.55 201.80 883.80 C204.55 884.05 207.55 883.30 210.10 882.80 C212.65 882.30 214.75 881.52 217.10 880.80 C219.45 880.08 221.45 879.12 224.20 878.50 C226.95 877.88 230.85 878.20 233.60 877.10 C236.35 876.00 238.35 874.33 240.70 871.90 C243.05 869.47 245.55 864.55 247.70 862.50 C249.85 860.45 251.63 859.60 253.60 859.60 C255.57 859.60 257.33 860.85 259.50 862.50 C261.67 864.15 264.23 867.47 266.60 869.50 C268.97 871.53 271.33 873.43 273.70 874.70 C276.07 875.97 278.45 876.87 280.80 877.10 C283.15 877.33 285.65 875.98 287.80 876.10 C289.95 876.22 291.53 876.93 293.70 877.80 C295.87 878.67 298.23 880.40 300.80 881.30 C303.37 882.20 304.58 882.80 309.10 883.20 C313.62 883.60 320.83 883.70 327.90 883.70 C334.97 883.70 345.20 883.12 351.50 883.20 C357.80 883.28 361.77 884.20 365.70 884.20 C369.63 884.20 371.97 883.88 375.10 883.20 C378.23 882.52 381.35 881.12 384.50 880.10 C387.65 879.08 390.85 877.68 394.00 877.10 C397.15 876.52 400.43 876.95 403.40 876.60 C406.37 876.25 408.05 875.58 411.80 875.00 C415.55 874.42 421.18 873.22 425.90 873.10 C430.62 872.98 435.38 874.68 440.10 874.30 C444.82 873.92 450.27 871.08 454.20 870.80 C458.13 870.52 460.55 871.62 463.70 872.60 C466.85 873.58 470.15 876.22 473.10 876.70 C476.05 877.18 478.65 874.72 481.40 875.50 C484.15 876.28 486.65 879.83 489.60 881.40 C492.55 882.97 495.95 884.12 499.10 884.90 C502.25 885.68 505.37 886.42 508.50 886.10 C511.63 885.78 514.75 884.57 517.90 883.00 C521.05 881.43 524.65 878.15 527.40 876.70 C530.15 875.25 532.05 874.18 534.40 874.30 C536.75 874.42 538.75 876.22 541.50 877.40 C544.25 878.58 548.35 881.72 550.90 881.40 C553.45 881.08 554.83 878.85 556.80 875.50 C558.77 872.15 560.53 865.23 562.70 861.30 C564.87 857.37 567.63 852.88 569.80 851.90 C571.97 850.92 574.00 853.98 575.70 855.40 C577.40 856.82 578.30 858.33 580.00 860.40 C581.70 862.47 583.93 865.83 585.90 867.80 C587.87 869.77 589.58 872.20 591.80 872.20 C594.02 872.20 596.75 869.27 599.20 867.80 C601.65 866.33 603.80 863.65 606.50 863.40 C609.20 863.15 612.45 865.32 615.40 866.30 C618.35 867.28 621.25 868.42 624.20 869.30 C627.15 870.18 630.15 871.35 633.10 871.60 C636.05 871.85 638.47 870.70 641.90 870.80 C645.33 870.90 650.50 872.95 653.70 872.20 C656.90 871.45 658.65 868.17 661.10 866.30 C663.55 864.43 665.95 861.63 668.40 861.00 C670.85 860.37 672.85 861.12 675.80 862.50 C678.75 863.88 682.42 866.93 686.10 869.30 C689.78 871.67 693.47 874.73 697.90 876.70 C702.33 878.67 707.78 880.13 712.70 881.10 C717.62 882.07 722.50 882.02 727.40 882.50 C732.30 882.98 737.18 883.75 742.10 884.00 C747.02 884.25 752.47 884.25 756.90 884.00 C761.33 883.75 764.77 882.50 768.70 882.50 C772.63 882.50 776.08 883.75 780.50 884.00 C784.92 884.25 791.27 885.72 795.20 884.00 C799.13 882.28 801.40 876.40 804.10 873.70 C806.80 871.00 808.95 868.05 811.40 867.80 C813.85 867.55 816.33 869.50 818.80 872.20 C821.27 874.90 824.58 881.62 826.20 884.00 C827.82 886.38 828.12 886.08 828.50 886.50" stroke="#108a10" stroke-width="2.30" fill="none" stroke-linejoin="round" stroke-linecap="round"/>
<path d="M81.50 787.40 C82.88 787.40 87.43 788.02 89.80 787.40 C92.17 786.78 93.73 785.40 95.70 783.70 C97.67 782.00 99.63 780.05 101.60 777.20 C103.57 774.35 105.53 770.73 107.50 766.60 C109.47 762.47 111.83 756.05 113.40 752.40 C114.97 748.75 115.82 746.32 116.90 744.70 C117.98 743.08 118.82 742.70 119.90 742.70 C120.98 742.70 122.23 743.83 123.40 744.70 C124.57 745.57 125.52 747.30 126.90 747.90 C128.28 748.50 130.22 747.85 131.70 748.30 C133.18 748.75 134.53 749.13 135.80 750.60 C137.07 752.07 137.93 754.25 139.30 757.10 C140.67 759.95 142.62 765.23 144.00 767.70 C145.38 770.17 146.52 772.28 147.60 771.90 C148.68 771.52 149.42 768.85 150.50 765.40 C151.58 761.95 152.82 756.32 154.10 751.20 C155.38 746.08 157.13 738.13 158.20 734.70 C159.27 731.27 159.72 730.60 160.50 730.60 C161.28 730.60 161.92 731.85 162.90 734.70 C163.88 737.55 165.22 742.98 166.40 747.70 C167.58 752.42 168.82 758.78 170.00 763.00 C171.18 767.22 172.32 771.72 173.50 773.00 C174.68 774.28 175.72 771.68 177.10 770.70 C178.48 769.72 180.23 766.72 181.80 767.10 C183.37 767.48 184.73 770.83 186.50 773.00 C188.27 775.17 190.03 779.00 192.40 780.10 C194.77 781.20 197.35 779.28 200.70 779.60 C204.05 779.92 208.58 781.52 212.50 782.00 C216.42 782.48 220.28 782.73 224.20 782.50 C228.12 782.27 232.07 780.80 236.00 780.60 C239.93 780.40 243.87 781.58 247.80 781.30 C251.73 781.02 256.05 779.50 259.60 778.90 C263.15 778.30 265.95 777.78 269.10 777.70 C272.25 777.62 275.37 777.80 278.50 778.40 C281.63 779.00 284.75 780.03 287.90 781.30 C291.05 782.57 294.65 785.02 297.40 786.00 C300.15 786.98 302.05 787.40 304.40 787.20 C306.75 787.00 309.33 785.67 311.50 784.80 C313.67 783.93 315.03 782.38 317.40 782.00 C319.77 781.62 322.75 782.23 325.70 782.50 C328.65 782.77 331.57 783.22 335.10 783.60 C338.63 783.98 342.97 784.52 346.90 784.80 C350.83 785.08 354.55 785.38 358.70 785.30 C362.85 785.22 368.05 784.77 371.80 784.30 C375.55 783.83 377.67 783.52 381.20 782.50 C384.73 781.48 388.67 779.18 393.00 778.20 C397.33 777.22 402.48 776.87 407.20 776.60 C411.92 776.33 417.37 776.73 421.30 776.60 C425.23 776.47 427.27 775.53 430.80 775.80 C434.33 776.07 439.37 777.88 442.50 778.20 C445.63 778.52 446.83 777.47 449.60 777.70 C452.37 777.93 455.57 779.28 459.10 779.60 C462.63 779.92 467.27 779.72 470.80 779.60 C474.33 779.48 477.53 778.42 480.30 778.90 C483.07 779.38 485.05 781.32 487.40 782.50 C489.75 783.68 492.05 785.22 494.40 786.00 C496.75 786.78 499.13 787.08 501.50 787.20 C503.87 787.32 506.43 787.88 508.60 786.70 C510.77 785.52 512.53 782.10 514.50 780.10 C516.47 778.10 518.23 775.28 520.40 774.70 C522.57 774.12 525.15 775.70 527.50 776.60 C529.85 777.50 532.42 779.20 534.50 780.10 C536.58 781.00 538.13 781.63 540.00 782.00 C541.87 782.37 543.82 782.95 545.70 782.30 C547.58 781.65 549.42 781.00 551.30 778.10 C553.18 775.20 555.12 769.93 557.00 764.90 C558.88 759.87 560.72 752.15 562.60 747.90 C564.48 743.65 566.57 740.33 568.30 739.40 C570.03 738.47 571.43 739.93 573.00 742.30 C574.57 744.67 576.12 749.52 577.70 753.60 C579.28 757.68 580.92 763.18 582.50 766.80 C584.08 770.42 585.63 773.57 587.20 775.30 C588.77 777.03 590.33 777.37 591.90 777.20 C593.47 777.03 594.87 775.40 596.60 774.30 C598.33 773.20 600.42 771.53 602.30 770.60 C604.18 769.67 606.02 768.95 607.90 768.70 C609.78 768.45 611.40 769.73 613.60 769.10 C615.80 768.47 618.90 765.85 621.10 764.90 C623.30 763.95 624.90 763.72 626.80 763.40 C628.70 763.08 630.30 763.85 632.50 763.00 C634.70 762.15 637.18 760.33 640.00 758.30 C642.82 756.27 646.25 753.78 649.40 750.80 C652.55 747.82 656.13 743.85 658.90 740.40 C661.67 736.95 663.82 733.48 666.00 730.10 C668.18 726.72 670.00 723.27 672.00 720.10 C674.00 716.93 676.15 713.03 678.00 711.10 C679.85 709.17 681.42 708.33 683.10 708.50 C684.78 708.67 686.43 709.17 688.10 712.10 C689.77 715.03 691.27 721.25 693.10 726.10 C694.93 730.95 697.10 736.85 699.10 741.20 C701.10 745.55 703.00 749.87 705.10 752.20 C707.20 754.53 709.70 756.20 711.70 755.20 C713.70 754.20 715.37 750.88 717.10 746.20 C718.83 741.52 720.42 731.62 722.10 727.10 C723.78 722.58 725.68 720.33 727.20 719.10 C728.72 717.87 729.70 718.20 731.20 719.70 C732.70 721.20 734.37 724.35 736.20 728.10 C738.03 731.85 739.87 737.68 742.20 742.20 C744.53 746.72 747.20 751.37 750.20 755.20 C753.20 759.03 756.85 762.37 760.20 765.20 C763.55 768.03 766.95 770.18 770.30 772.20 C773.65 774.22 777.30 776.02 780.30 777.30 C783.30 778.58 785.30 779.57 788.30 779.90 C791.30 780.23 795.63 780.25 798.30 779.30 C800.97 778.35 802.28 775.72 804.30 774.20 C806.32 772.68 808.38 770.53 810.40 770.20 C812.42 769.87 814.40 770.68 816.40 772.20 C818.40 773.72 820.47 777.17 822.40 779.30 C824.33 781.43 827.07 784.05 828.00 785.00" stroke="#1e1ea4" stroke-width="2.30" fill="none" stroke-linejoin="round" stroke-linecap="round"/>
<path d="M81.10 680.10 C82.05 679.53 85.08 677.65 86.80 676.70 C88.52 675.75 89.68 676.10 91.40 674.40 C93.12 672.70 95.20 670.67 97.10 666.50 C99.00 662.33 100.90 656.80 102.80 649.40 C104.70 642.00 106.62 633.10 108.50 622.10 C110.38 611.10 112.40 595.55 114.10 583.40 C115.80 571.25 117.37 559.45 118.70 549.20 C120.03 538.95 121.03 528.38 122.10 521.90 C123.17 515.42 124.15 511.43 125.10 510.30 C126.05 509.17 126.78 510.88 127.80 515.10 C128.82 519.32 130.07 526.87 131.20 535.60 C132.33 544.33 133.47 556.12 134.60 567.50 C135.73 578.88 136.85 593.28 138.00 603.90 C139.15 614.52 140.17 624.38 141.50 631.20 C142.83 638.02 144.12 642.33 146.00 644.80 C147.88 647.27 150.52 646.00 152.80 646.00 C155.08 646.00 157.23 645.57 159.70 644.80 C162.17 644.03 165.33 640.63 167.60 641.40 C169.87 642.17 171.58 646.55 173.30 649.40 C175.02 652.25 176.38 656.42 177.90 658.50 C179.42 660.58 180.70 662.28 182.40 661.90 C184.10 661.52 186.20 658.85 188.10 656.20 C190.00 653.55 192.08 647.13 193.80 646.00 C195.52 644.87 196.68 647.70 198.40 649.40 C200.12 651.10 202.20 656.20 204.10 656.20 C206.00 656.20 207.72 653.57 209.80 649.40 C211.88 645.23 214.33 635.57 216.60 631.20 C218.87 626.83 221.70 624.53 223.40 623.20 C225.10 621.87 225.08 623.00 226.80 623.20 C228.52 623.40 231.42 623.07 233.70 624.40 C235.98 625.73 238.23 628.93 240.50 631.20 C242.77 633.47 245.22 636.57 247.30 638.00 C249.38 639.43 250.92 639.98 253.00 639.80 C255.08 639.62 257.33 638.72 259.80 636.90 C262.27 635.08 264.95 632.13 267.80 628.90 C270.65 625.67 274.43 621.30 276.90 617.50 C279.37 613.70 280.70 613.30 282.60 606.10 C284.50 598.90 286.78 583.78 288.30 574.30 C289.82 564.82 290.75 554.52 291.70 549.20 C292.65 543.88 293.05 542.20 294.00 542.40 C294.95 542.60 296.27 548.58 297.40 550.40 C298.53 552.22 299.47 552.73 300.80 553.30 C302.13 553.87 304.07 552.58 305.40 553.80 C306.73 555.02 307.48 556.05 308.80 560.60 C310.12 565.15 311.43 572.48 313.30 581.10 C315.17 589.72 317.90 603.57 320.00 612.30 C322.10 621.03 323.93 626.43 325.90 633.50 C327.87 640.57 330.23 649.78 331.80 654.70 C333.37 659.62 334.12 661.13 335.30 663.00 C336.48 664.87 337.72 665.90 338.90 665.90 C340.08 665.90 341.03 665.25 342.40 663.00 C343.77 660.75 345.53 654.95 347.10 652.40 C348.67 649.85 350.42 648.68 351.80 647.70 C353.18 646.72 354.22 646.32 355.40 646.50 C356.58 646.68 357.72 647.03 358.90 648.80 C360.08 650.57 361.12 653.35 362.50 657.10 C363.88 660.85 365.83 667.95 367.20 671.30 C368.57 674.65 369.72 676.13 370.70 677.20 C371.68 678.27 372.12 678.50 373.10 677.70 C374.08 676.90 375.23 674.65 376.60 672.40 C377.97 670.15 379.73 666.17 381.30 664.20 C382.87 662.23 384.42 661.00 386.00 660.60 C387.58 660.20 389.22 661.80 390.80 661.80 C392.38 661.80 394.13 661.38 395.50 660.60 C396.87 659.82 397.83 659.25 399.00 657.10 C400.17 654.95 401.52 652.22 402.50 647.70 C403.48 643.18 404.00 636.88 404.90 630.00 C405.80 623.12 406.97 617.20 407.90 606.40 C408.83 595.60 409.68 577.38 410.50 565.20 C411.32 553.02 412.18 539.37 412.80 533.30 C413.42 527.23 413.70 528.03 414.20 528.80 C414.70 529.57 415.17 531.83 415.80 537.90 C416.43 543.97 417.25 556.87 418.00 565.20 C418.75 573.53 419.35 580.50 420.30 587.90 C421.25 595.30 422.55 604.28 423.70 609.60 C424.85 614.92 426.05 618.85 427.20 619.80 C428.35 620.75 429.47 616.82 430.60 615.30 C431.73 613.78 432.87 610.70 434.00 610.70 C435.13 610.70 436.07 611.88 437.40 615.30 C438.73 618.72 440.48 626.65 442.00 631.20 C443.52 635.75 444.98 639.87 446.50 642.60 C448.02 645.33 449.58 647.60 451.10 647.60 C452.62 647.60 454.08 645.33 455.60 642.60 C457.12 639.87 458.87 632.35 460.20 631.20 C461.53 630.05 462.47 633.05 463.60 635.70 C464.73 638.35 465.68 644.13 467.00 647.10 C468.32 650.07 469.98 652.37 471.50 653.50 C473.02 654.63 474.58 654.58 476.10 653.90 C477.62 653.22 479.27 650.53 480.60 649.40 C481.93 648.27 482.80 645.92 484.10 647.10 C485.40 648.28 486.90 652.97 488.40 656.50 C489.90 660.03 491.53 664.85 493.10 668.30 C494.67 671.75 496.42 675.52 497.80 677.20 C499.18 678.88 500.22 678.70 501.40 678.40 C502.58 678.10 503.53 677.27 504.90 675.40 C506.27 673.53 508.03 670.73 509.60 667.20 C511.17 663.67 513.02 657.73 514.30 654.20 C515.58 650.67 516.27 646.05 517.30 646.00 C518.33 645.95 519.22 650.30 520.50 653.90 C521.78 657.50 523.48 664.37 525.00 667.60 C526.52 670.83 528.08 672.15 529.60 673.30 C531.12 674.45 532.20 674.88 534.10 674.50 C536.00 674.12 538.72 672.33 541.00 671.00 C543.28 669.67 545.53 668.58 547.80 666.50 C550.07 664.42 552.70 662.87 554.60 658.50 C556.50 654.13 558.05 647.88 559.20 640.30 C560.35 632.72 560.82 623.63 561.50 613.00 C562.18 602.37 562.73 585.98 563.30 576.50 C563.87 567.02 564.37 559.70 564.90 556.10 C565.43 552.50 565.93 553.00 566.50 554.90 C567.07 556.80 567.62 560.10 568.30 567.50 C568.98 574.90 569.85 589.45 570.60 599.30 C571.35 609.15 571.85 618.63 572.80 626.60 C573.75 634.57 574.97 641.78 576.30 647.10 C577.63 652.42 579.10 656.03 580.80 658.50 C582.50 660.97 584.60 660.77 586.50 661.90 C588.40 663.03 590.50 664.53 592.20 665.30 C593.90 666.07 595.18 667.63 596.70 666.50 C598.22 665.37 599.78 661.73 601.30 658.50 C602.82 655.27 604.55 649.57 605.80 647.10 C607.05 644.63 607.65 642.93 608.80 643.70 C609.95 644.47 611.30 648.67 612.70 651.70 C614.10 654.73 615.88 660.00 617.20 661.90 C618.52 663.80 619.45 663.85 620.60 663.10 C621.75 662.35 622.88 659.00 624.10 657.40 C625.32 655.80 626.65 653.32 627.90 653.50 C629.15 653.68 630.15 655.97 631.60 658.50 C633.05 661.03 634.82 666.23 636.60 668.70 C638.38 671.17 640.60 672.03 642.30 673.30 C644.00 674.57 644.90 675.73 646.80 676.30 C648.70 676.87 651.42 677.20 653.70 676.70 C655.98 676.20 658.23 675.38 660.50 673.30 C662.77 671.22 665.03 667.43 667.30 664.20 C669.57 660.97 672.02 657.13 674.10 653.90 C676.18 650.67 678.27 647.07 679.80 644.80 C681.33 642.53 682.15 640.30 683.30 640.30 C684.45 640.30 685.57 641.77 686.70 644.80 C687.83 647.83 688.78 654.13 690.10 658.50 C691.42 662.87 692.90 667.77 694.60 671.00 C696.30 674.23 698.02 676.18 700.30 677.90 C702.58 679.62 705.45 680.93 708.30 681.30 C711.15 681.67 714.37 680.48 717.40 680.10 C720.43 679.72 723.08 678.88 726.50 679.00 C729.92 679.12 734.10 680.12 737.90 680.80 C741.70 681.48 745.52 682.95 749.30 683.10 C753.08 683.25 757.53 682.30 760.60 681.70 C763.67 681.10 765.92 680.75 767.70 679.50 C769.48 678.25 770.32 676.85 771.30 674.20 C772.28 671.55 772.82 666.93 773.60 663.60 C774.38 660.27 775.22 656.32 776.00 654.20 C776.78 652.08 777.32 651.30 778.30 650.90 C779.28 650.50 780.82 650.67 781.90 651.80 C782.98 652.93 783.82 655.13 784.80 657.70 C785.78 660.27 786.72 665.03 787.80 667.20 C788.88 669.37 789.93 669.73 791.30 670.70 C792.67 671.67 794.03 671.72 796.00 673.00 C797.97 674.28 800.35 677.32 803.10 678.40 C805.85 679.48 809.35 679.12 812.50 679.50 C815.65 679.88 819.42 680.40 822.00 680.70 C824.58 681.00 827.00 681.20 828.00 681.30" stroke="#22dd22" stroke-width="2.10" fill="none" stroke-linejoin="round" stroke-linecap="round"/>
<path d="M81.10 679.60 C82.05 679.08 85.08 677.35 86.80 676.50 C88.52 675.65 89.68 676.08 91.40 674.50 C93.12 672.92 95.20 670.88 97.10 667.00 C99.00 663.12 100.72 658.77 102.80 651.20 C104.88 643.63 107.33 633.37 109.60 621.60 C111.87 609.83 114.50 591.98 116.40 580.60 C118.30 569.22 119.67 559.30 121.00 553.30 C122.33 547.30 123.27 544.98 124.40 544.60 C125.53 544.22 126.47 545.77 127.80 551.00 C129.13 556.23 130.88 566.52 132.40 576.00 C133.92 585.48 135.38 598.78 136.90 607.90 C138.42 617.02 139.98 625.20 141.50 630.70 C143.02 636.20 144.12 639.85 146.00 640.90 C147.88 641.95 150.52 638.13 152.80 637.00 C155.08 635.87 157.23 635.53 159.70 634.10 C162.17 632.67 165.33 627.83 167.60 628.40 C169.87 628.97 170.83 633.52 173.30 637.50 C175.77 641.48 179.73 650.78 182.40 652.30 C185.07 653.82 187.40 649.25 189.30 646.60 C191.20 643.95 192.28 637.53 193.80 636.40 C195.32 635.27 196.68 638.10 198.40 639.80 C200.12 641.50 202.02 647.37 204.10 646.60 C206.18 645.83 208.82 639.75 210.90 635.20 C212.98 630.65 215.08 622.70 216.60 619.30 C218.12 615.90 218.67 615.48 220.00 614.80 C221.33 614.12 222.70 614.45 224.60 615.20 C226.50 615.95 229.13 617.48 231.40 619.30 C233.67 621.12 235.93 623.63 238.20 626.10 C240.47 628.57 242.72 632.38 245.00 634.10 C247.28 635.82 249.62 636.58 251.90 636.40 C254.18 636.22 256.43 635.08 258.70 633.00 C260.97 630.92 263.03 627.32 265.50 623.90 C267.97 620.48 271.03 616.30 273.50 612.50 C275.97 608.70 278.40 605.28 280.30 601.10 C282.20 596.92 283.57 594.23 284.90 587.40 C286.23 580.57 287.28 568.82 288.30 560.10 C289.32 551.38 290.13 540.67 291.00 535.10 C291.87 529.53 292.62 526.70 293.50 526.70 C294.38 526.70 295.27 532.75 296.30 535.10 C297.33 537.45 298.38 539.22 299.70 540.80 C301.02 542.38 302.88 542.90 304.20 544.60 C305.52 546.30 306.45 547.27 307.60 551.00 C308.75 554.73 309.77 560.55 311.10 567.00 C312.43 573.45 314.12 582.03 315.60 589.70 C317.08 597.37 318.28 605.18 320.00 613.00 C321.72 620.82 323.93 628.93 325.90 636.60 C327.87 644.27 329.83 654.00 331.80 659.00 C333.77 664.00 336.13 665.43 337.70 666.60 C339.27 667.77 339.83 668.07 341.20 666.00 C342.57 663.93 344.13 657.33 345.90 654.20 C347.67 651.07 350.22 648.57 351.80 647.20 C353.38 645.83 354.02 645.62 355.40 646.00 C356.78 646.38 358.53 646.17 360.10 649.50 C361.67 652.83 363.23 661.28 364.80 666.00 C366.37 670.72 367.73 674.95 369.50 677.80 C371.27 680.65 373.43 682.40 375.40 683.10 C377.37 683.80 379.33 682.78 381.30 682.00 C383.27 681.22 385.23 679.28 387.20 678.40 C389.17 677.52 391.33 677.77 393.10 676.70 C394.87 675.63 396.42 674.37 397.80 672.00 C399.18 669.63 400.22 667.62 401.40 662.50 C402.58 657.38 403.82 649.75 404.90 641.30 C405.98 632.85 406.97 624.57 407.90 611.80 C408.83 599.03 409.68 577.10 410.50 564.70 C411.32 552.30 412.18 542.72 412.80 537.40 C413.42 532.08 413.70 532.43 414.20 532.80 C414.70 533.17 415.17 534.28 415.80 539.60 C416.43 544.92 417.25 556.35 418.00 564.70 C418.75 573.05 419.35 582.12 420.30 589.70 C421.25 597.28 422.55 605.83 423.70 610.20 C424.85 614.57 426.05 616.08 427.20 615.90 C428.35 615.72 429.28 611.57 430.60 609.10 C431.92 606.63 433.78 601.30 435.10 601.10 C436.42 600.90 437.17 603.35 438.50 607.90 C439.83 612.45 441.58 622.33 443.10 628.40 C444.62 634.47 445.90 640.50 447.60 644.30 C449.30 648.10 451.20 650.25 453.30 651.20 C455.40 652.15 458.30 650.38 460.20 650.00 C462.10 649.62 463.18 648.52 464.70 648.90 C466.22 649.28 467.78 651.55 469.30 652.30 C470.82 653.05 472.10 653.58 473.80 653.40 C475.50 653.22 478.25 651.15 479.50 651.20 C480.75 651.25 480.22 652.10 481.30 653.70 C482.38 655.30 484.42 658.05 486.00 660.80 C487.58 663.55 489.22 667.65 490.80 670.20 C492.38 672.75 493.93 675.02 495.50 676.10 C497.07 677.18 498.63 677.20 500.20 676.70 C501.77 676.20 503.33 674.97 504.90 673.10 C506.47 671.23 508.03 669.13 509.60 665.50 C511.17 661.87 512.95 655.25 514.30 651.30 C515.65 647.35 516.48 641.82 517.70 641.80 C518.92 641.78 520.18 647.37 521.60 651.20 C523.02 655.03 524.48 661.77 526.20 664.80 C527.92 667.83 529.82 668.83 531.90 669.40 C533.98 669.97 536.05 669.15 538.70 668.20 C541.35 667.25 545.15 665.78 547.80 663.70 C550.45 661.62 552.70 660.45 554.60 655.70 C556.50 650.95 558.05 644.68 559.20 635.20 C560.35 625.72 560.82 611.70 561.50 598.80 C562.18 585.90 562.73 567.85 563.30 557.80 C563.87 547.75 564.37 541.15 564.90 538.50 C565.43 535.85 565.93 538.30 566.50 541.90 C567.07 545.50 567.62 551.37 568.30 560.10 C568.98 568.83 569.85 584.05 570.60 594.30 C571.35 604.55 571.85 613.27 572.80 621.60 C573.75 629.93 574.97 638.80 576.30 644.30 C577.63 649.80 579.10 652.32 580.80 654.60 C582.50 656.88 584.60 656.48 586.50 658.00 C588.40 659.52 590.50 662.37 592.20 663.70 C593.90 665.03 595.18 666.95 596.70 666.00 C598.22 665.05 599.78 661.23 601.30 658.00 C602.82 654.77 604.55 649.07 605.80 646.60 C607.05 644.13 607.65 642.07 608.80 643.20 C609.95 644.33 611.10 649.60 612.70 653.40 C614.30 657.20 616.70 664.85 618.40 666.00 C620.10 667.15 621.38 662.20 622.90 660.30 C624.42 658.40 626.05 654.22 627.50 654.60 C628.95 654.98 630.08 659.37 631.60 662.60 C633.12 665.83 634.82 671.53 636.60 674.00 C638.38 676.47 640.60 676.47 642.30 677.40 C644.00 678.33 644.90 679.03 646.80 679.60 C648.70 680.17 651.42 681.37 653.70 680.80 C655.98 680.23 658.23 678.87 660.50 676.20 C662.77 673.53 665.03 667.65 667.30 664.80 C669.57 661.95 672.20 660.62 674.10 659.10 C676.00 657.58 677.25 656.72 678.70 655.70 C680.15 654.68 681.47 652.62 682.80 653.00 C684.13 653.38 685.30 655.27 686.70 658.00 C688.10 660.73 689.50 665.98 691.20 669.40 C692.90 672.82 694.82 676.42 696.90 678.50 C698.98 680.58 701.05 681.52 703.70 681.90 C706.35 682.28 709.00 681.28 712.80 680.80 C716.60 680.32 722.32 679.08 726.50 679.00 C730.68 678.92 734.10 679.70 737.90 680.30 C741.70 680.90 745.52 682.45 749.30 682.60 C753.08 682.75 757.53 681.80 760.60 681.20 C763.67 680.60 765.88 680.53 767.70 679.00 C769.52 677.47 770.32 675.83 771.50 672.00 C772.68 668.17 773.85 659.55 774.80 656.00 C775.75 652.45 776.42 651.08 777.20 650.70 C777.98 650.32 778.72 651.63 779.50 653.70 C780.28 655.77 781.02 660.45 781.90 663.10 C782.78 665.75 783.62 668.52 784.80 669.60 C785.98 670.68 787.52 669.40 789.00 669.60 C790.48 669.80 791.73 669.82 793.70 670.80 C795.67 671.78 798.63 674.67 800.80 675.50 C802.97 676.33 804.75 675.87 806.70 675.80 C808.65 675.73 810.35 675.05 812.50 675.10 C814.65 675.15 817.02 675.55 819.60 676.10 C822.18 676.65 826.60 678.02 828.00 678.40" stroke="#000000" stroke-width="2.30" fill="none" stroke-linejoin="round" stroke-linecap="round"/>
<path d="M81.10 679.60 C82.05 679.03 85.08 677.15 86.80 676.20 C88.52 675.25 89.68 675.60 91.40 673.90 C93.12 672.20 95.20 670.17 97.10 666.00 C99.00 661.83 100.90 656.30 102.80 648.90 C104.70 641.50 106.62 632.60 108.50 621.60 C110.38 610.60 112.40 595.05 114.10 582.90 C115.80 570.75 117.37 558.95 118.70 548.70 C120.03 538.45 121.03 527.88 122.10 521.40 C123.17 514.92 124.15 510.93 125.10 509.80 C126.05 508.67 126.78 510.38 127.80 514.60 C128.82 518.82 130.07 526.37 131.20 535.10 C132.33 543.83 133.47 555.62 134.60 567.00 C135.73 578.38 136.85 592.78 138.00 603.40 C139.15 614.02 140.17 623.88 141.50 630.70 C142.83 637.52 144.12 641.83 146.00 644.30 C147.88 646.77 150.52 645.50 152.80 645.50 C155.08 645.50 157.23 645.07 159.70 644.30 C162.17 643.53 165.33 640.13 167.60 640.90 C169.87 641.67 171.58 646.05 173.30 648.90 C175.02 651.75 176.38 655.92 177.90 658.00 C179.42 660.08 180.70 661.78 182.40 661.40 C184.10 661.02 186.20 658.35 188.10 655.70 C190.00 653.05 192.08 646.63 193.80 645.50 C195.52 644.37 196.68 647.20 198.40 648.90 C200.12 650.60 202.20 655.70 204.10 655.70 C206.00 655.70 207.72 653.07 209.80 648.90 C211.88 644.73 214.33 635.07 216.60 630.70 C218.87 626.33 221.70 624.03 223.40 622.70 C225.10 621.37 225.08 622.50 226.80 622.70 C228.52 622.90 231.42 622.57 233.70 623.90 C235.98 625.23 238.23 628.43 240.50 630.70 C242.77 632.97 245.22 636.07 247.30 637.50 C249.38 638.93 250.92 639.48 253.00 639.30 C255.08 639.12 257.33 638.22 259.80 636.40 C262.27 634.58 264.95 631.63 267.80 628.40 C270.65 625.17 274.43 620.80 276.90 617.00 C279.37 613.20 280.70 612.80 282.60 605.60 C284.50 598.40 286.78 583.28 288.30 573.80 C289.82 564.32 290.75 554.02 291.70 548.70 C292.65 543.38 293.05 541.70 294.00 541.90 C294.95 542.10 296.27 548.08 297.40 549.90 C298.53 551.72 299.47 552.23 300.80 552.80 C302.13 553.37 304.07 552.08 305.40 553.30 C306.73 554.52 307.48 555.55 308.80 560.10 C310.12 564.65 311.43 571.98 313.30 580.60 C315.17 589.22 317.90 603.07 320.00 611.80 C322.10 620.53 323.93 625.93 325.90 633.00 C327.87 640.07 330.23 649.28 331.80 654.20 C333.37 659.12 334.12 660.63 335.30 662.50 C336.48 664.37 337.72 665.40 338.90 665.40 C340.08 665.40 341.03 664.75 342.40 662.50 C343.77 660.25 345.53 654.45 347.10 651.90 C348.67 649.35 350.42 648.18 351.80 647.20 C353.18 646.22 354.22 645.82 355.40 646.00 C356.58 646.18 357.72 646.53 358.90 648.30 C360.08 650.07 361.12 652.85 362.50 656.60 C363.88 660.35 365.83 667.45 367.20 670.80 C368.57 674.15 369.72 675.63 370.70 676.70 C371.68 677.77 372.12 678.00 373.10 677.20 C374.08 676.40 375.23 674.15 376.60 671.90 C377.97 669.65 379.73 665.67 381.30 663.70 C382.87 661.73 384.42 660.50 386.00 660.10 C387.58 659.70 389.22 661.30 390.80 661.30 C392.38 661.30 394.13 660.88 395.50 660.10 C396.87 659.32 397.83 658.75 399.00 656.60 C400.17 654.45 401.52 651.72 402.50 647.20 C403.48 642.68 404.00 636.38 404.90 629.50 C405.80 622.62 406.97 616.70 407.90 605.90 C408.83 595.10 409.68 576.88 410.50 564.70 C411.32 552.52 412.18 538.87 412.80 532.80 C413.42 526.73 413.70 527.53 414.20 528.30 C414.70 529.07 415.17 531.33 415.80 537.40 C416.43 543.47 417.25 556.37 418.00 564.70 C418.75 573.03 419.35 580.00 420.30 587.40 C421.25 594.80 422.55 603.78 423.70 609.10 C424.85 614.42 426.05 618.35 427.20 619.30 C428.35 620.25 429.47 616.32 430.60 614.80 C431.73 613.28 432.87 610.20 434.00 610.20 C435.13 610.20 436.07 611.38 437.40 614.80 C438.73 618.22 440.48 626.15 442.00 630.70 C443.52 635.25 444.98 639.37 446.50 642.10 C448.02 644.83 449.58 647.10 451.10 647.10 C452.62 647.10 454.08 644.83 455.60 642.10 C457.12 639.37 458.87 631.85 460.20 630.70 C461.53 629.55 462.47 632.55 463.60 635.20 C464.73 637.85 465.68 643.63 467.00 646.60 C468.32 649.57 469.98 651.87 471.50 653.00 C473.02 654.13 474.58 654.08 476.10 653.40 C477.62 652.72 479.27 650.03 480.60 648.90 C481.93 647.77 482.80 645.42 484.10 646.60 C485.40 647.78 486.90 652.47 488.40 656.00 C489.90 659.53 491.53 664.35 493.10 667.80 C494.67 671.25 496.42 675.02 497.80 676.70 C499.18 678.38 500.22 678.20 501.40 677.90 C502.58 677.60 503.53 676.77 504.90 674.90 C506.27 673.03 508.03 670.23 509.60 666.70 C511.17 663.17 513.02 657.23 514.30 653.70 C515.58 650.17 516.27 645.55 517.30 645.50 C518.33 645.45 519.22 649.80 520.50 653.40 C521.78 657.00 523.48 663.87 525.00 667.10 C526.52 670.33 528.08 671.65 529.60 672.80 C531.12 673.95 532.20 674.38 534.10 674.00 C536.00 673.62 538.72 671.83 541.00 670.50 C543.28 669.17 545.53 668.08 547.80 666.00 C550.07 663.92 552.70 662.37 554.60 658.00 C556.50 653.63 558.05 647.38 559.20 639.80 C560.35 632.22 560.82 623.13 561.50 612.50 C562.18 601.87 562.73 585.48 563.30 576.00 C563.87 566.52 564.37 559.20 564.90 555.60 C565.43 552.00 565.93 552.50 566.50 554.40 C567.07 556.30 567.62 559.60 568.30 567.00 C568.98 574.40 569.85 588.95 570.60 598.80 C571.35 608.65 571.85 618.13 572.80 626.10 C573.75 634.07 574.97 641.28 576.30 646.60 C577.63 651.92 579.10 655.53 580.80 658.00 C582.50 660.47 584.60 660.27 586.50 661.40 C588.40 662.53 590.50 664.03 592.20 664.80 C593.90 665.57 595.18 667.13 596.70 666.00 C598.22 664.87 599.78 661.23 601.30 658.00 C602.82 654.77 604.55 649.07 605.80 646.60 C607.05 644.13 607.65 642.43 608.80 643.20 C609.95 643.97 611.30 648.17 612.70 651.20 C614.10 654.23 615.88 659.50 617.20 661.40 C618.52 663.30 619.45 663.35 620.60 662.60 C621.75 661.85 622.88 658.50 624.10 656.90 C625.32 655.30 626.65 652.82 627.90 653.00 C629.15 653.18 630.15 655.47 631.60 658.00 C633.05 660.53 634.82 665.73 636.60 668.20 C638.38 670.67 640.60 671.53 642.30 672.80 C644.00 674.07 644.90 675.23 646.80 675.80 C648.70 676.37 651.42 676.70 653.70 676.20 C655.98 675.70 658.23 674.88 660.50 672.80 C662.77 670.72 665.03 666.93 667.30 663.70 C669.57 660.47 672.02 656.63 674.10 653.40 C676.18 650.17 678.27 646.57 679.80 644.30 C681.33 642.03 682.15 639.80 683.30 639.80 C684.45 639.80 685.57 641.27 686.70 644.30 C687.83 647.33 688.78 653.63 690.10 658.00 C691.42 662.37 692.90 667.27 694.60 670.50 C696.30 673.73 698.02 675.68 700.30 677.40 C702.58 679.12 705.45 680.43 708.30 680.80 C711.15 681.17 714.37 679.98 717.40 679.60 C720.43 679.22 723.08 678.38 726.50 678.50 C729.92 678.62 734.10 679.62 737.90 680.30 C741.70 680.98 745.52 682.45 749.30 682.60 C753.08 682.75 757.53 681.80 760.60 681.20 C763.67 680.60 765.92 680.25 767.70 679.00 C769.48 677.75 770.32 676.35 771.30 673.70 C772.28 671.05 772.82 666.43 773.60 663.10 C774.38 659.77 775.22 655.82 776.00 653.70 C776.78 651.58 777.32 650.80 778.30 650.40 C779.28 650.00 780.82 650.17 781.90 651.30 C782.98 652.43 783.82 654.63 784.80 657.20 C785.78 659.77 786.72 664.53 787.80 666.70 C788.88 668.87 789.93 669.23 791.30 670.20 C792.67 671.17 794.03 671.22 796.00 672.50 C797.97 673.78 800.35 676.82 803.10 677.90 C805.85 678.98 809.35 678.62 812.50 679.00 C815.65 679.38 819.42 679.90 822.00 680.20 C824.58 680.50 827.00 680.70 828.00 680.80" stroke="#ee0a0a" stroke-width="2.30" fill="none" stroke-linejoin="round" stroke-linecap="round"/>
<path d="M172.0 199.2L188.8 226.8M515.3 149.5L540.9 178.6M162.0 600.0L164.2 620.4M200.6 580.6L195.0 628.4M278.0 506.6L292.4 522.6M324.7 532.8L306.5 540.8M254.1 586.3L266.7 612.5M440.8 573.8L436.3 594.3M382.8 621.6L386.2 654.6M505.7 580.6L486.3 640.9M539.8 610.2L520.5 636.4M640.3 622.8L628.7 646.8M106.0 710.6L114.2 733.7M155.0 687.0L139.0 740.8M189.7 713.6L162.5 723.0M601.3 752.6L606.4 764.0M622.5 720.6L626.8 755.5M607.1 836.9L607.1 859.0" stroke="#2a2a2a" stroke-width="1.35" fill="none"/>
<text transform="translate(173.0 157.9) scale(1.12 0.82)" font-size="20" fill="#1a1a1a" text-anchor="middle">*</text>
<text x="173.0" y="183.4" font-size="20" fill="#1a1a1a" text-anchor="middle">1720</text>
<text x="421.0" y="52.5" font-size="19.5" font-weight="bold" fill="#000" text-anchor="middle">β</text>
<text x="424.0" y="75.5" font-size="20" fill="#1a1a1a" text-anchor="middle">1668</text>
<text x="514.4" y="120.6" font-size="19.5" font-weight="bold" fill="#000" text-anchor="middle">Y, F, W</text>
<text x="516.5" y="142.7" font-size="20" fill="#1a1a1a" text-anchor="middle">1614</text>
<text x="603.2" y="84.0" font-size="19.5" font-weight="bold" fill="#000" text-anchor="middle">pY</text>
<text x="603.5" y="107.5" font-size="20" fill="#1a1a1a" text-anchor="middle">1599</text>
<text x="603.0" y="129.2" font-size="19.5" font-weight="bold" fill="#000" text-anchor="middle">F, W</text>
<text x="603.5" y="152.0" font-size="20" fill="#1a1a1a" text-anchor="middle">1600</text>
<text x="756.7" y="181.8" font-size="19.5" font-weight="bold" fill="#000" text-anchor="middle">W</text>
<text x="754.7" y="204.7" font-size="20" fill="#1a1a1a" text-anchor="middle">1555</text>
<text x="669.8" y="56.1" font-size="23.5" font-weight="bold" fill="#ee0a0a">T CL <tspan dx="5.2">13.7 %</tspan></text>
<text x="672.6" y="92.2" font-size="23.5" font-weight="bold" fill="#1ef01e">T M 12.4 %</text>
<text x="674.5" y="130.4" font-size="23.5" font-weight="bold" fill="#000" text-anchor="start">T control</text>
<text x="191.0" y="281.8" font-size="20" fill="#1a1a1a" text-anchor="middle">1721</text>
<text x="271.0" y="282.9" font-size="20" fill="#1a1a1a" text-anchor="middle">1698</text>
<text x="472.2" y="244.4" font-size="20" fill="#1a1a1a" text-anchor="middle">1638</text>
<text x="671.2" y="323.5" font-size="24" font-weight="bold" fill="#0c0c80" text-anchor="start">Phosmer CL</text>
<text x="195.8" y="373.3" font-size="20" fill="#1a1a1a" text-anchor="middle">1719</text>
<text x="299.5" y="363.3" font-size="20" fill="#1a1a1a" text-anchor="middle">1690</text>
<text x="469.8" y="329.3" font-size="20" fill="#1a1a1a" text-anchor="middle">1640</text>
<text x="676.4" y="401.6" font-size="24" font-weight="bold" fill="#108010" text-anchor="start">Phosmer M</text>
<text transform="translate(157.5 501.0) scale(1.12 0.82)" font-size="20" fill="#1a1a1a" text-anchor="middle">*</text>
<text x="159.0" y="526.8" font-size="20" fill="#1a1a1a" text-anchor="middle">1450</text>
<text x="202.8" y="547.0" font-size="19.5" font-weight="bold" fill="#000" text-anchor="middle">W</text>
<text x="164.3" y="569.5" font-size="19.5" font-weight="bold" fill="#000" text-anchor="middle">S</text>
<text x="201.3" y="569.8" font-size="20" fill="#1a1a1a" text-anchor="middle">1365</text>
<text x="163.8" y="592.1" font-size="20" fill="#1a1a1a" text-anchor="middle">1398</text>
<text x="251.7" y="503.1" font-size="19.5" font-weight="bold" fill="#000" text-anchor="middle">β</text>
<text x="254.6" y="524.8" font-size="20" fill="#1a1a1a" text-anchor="middle">1242</text>
<text x="339.2" y="506.4" font-size="19.5" font-weight="bold" fill="#000" text-anchor="middle">β</text>
<text x="342.6" y="527.6" font-size="20" fill="#1a1a1a" text-anchor="middle">1230</text>
<text x="249.9" y="553.0" font-size="19.5" font-weight="bold" fill="#000" text-anchor="middle">α</text>
<text x="250.4" y="574.2" font-size="19.5" font-weight="bold" fill="#000" text-anchor="middle">Un</text>
<text x="410.5" y="500.6" font-size="19.5" font-weight="bold" fill="#000" text-anchor="middle">A</text>
<text x="413.0" y="522.4" font-size="20" fill="#1a1a1a" text-anchor="middle">1094</text>
<text x="443.8" y="546.5" font-size="19.5" font-weight="bold" fill="#000" text-anchor="middle">A</text>
<text x="446.3" y="568.6" font-size="20" fill="#1a1a1a" text-anchor="middle">1069</text>
<text transform="translate(376.5 592.9) scale(1.12 0.82)" font-size="20" fill="#1a1a1a" text-anchor="middle">*</text>
<text x="376.8" y="617.8" font-size="20" fill="#1a1a1a" text-anchor="middle">1128</text>
<text transform="translate(465.4 595.0) scale(1.12 0.82)" font-size="20" fill="#1a1a1a" text-anchor="middle">*</text>
<text x="469.8" y="617.8" font-size="20" fill="#1a1a1a" text-anchor="middle">1036</text>
<text transform="translate(502.4 545.4) scale(1.12 0.82)" font-size="20" fill="#1a1a1a" text-anchor="middle">*</text>
<text x="505.3" y="571.2" font-size="20" fill="#1a1a1a" text-anchor="middle">1009</text>
<text x="578.5" y="511.5" font-size="19.5" font-weight="bold" fill="#000" text-anchor="middle">A</text>
<text x="580.5" y="533.1" font-size="20" fill="#1a1a1a" text-anchor="middle">907</text>
<text x="537.8" y="582.0" font-size="19.5" font-weight="bold" fill="#000" text-anchor="middle">A</text>
<text x="540.8" y="605.1" font-size="20" fill="#1a1a1a" text-anchor="middle">965</text>
<text x="604.0" y="613.9" font-size="19.5" font-weight="bold" fill="#000" text-anchor="middle">Y</text>
<text x="605.5" y="635.3" font-size="20" fill="#1a1a1a" text-anchor="middle">854</text>
<text x="641.0" y="593.6" font-size="19.5" font-weight="bold" fill="#000" text-anchor="middle">Y</text>
<text x="642.5" y="616.1" font-size="20" fill="#1a1a1a" text-anchor="middle">829</text>
<text transform="translate(698.3 596.4) scale(1.12 0.82)" font-size="20" fill="#1a1a1a" text-anchor="middle">*</text>
<text x="696.5" y="621.5" font-size="20" fill="#1a1a1a" text-anchor="middle">761</text>
<text x="776.0" y="620.4" font-size="19.5" font-weight="bold" fill="#000" text-anchor="middle">Y</text>
<text x="778.3" y="642.4" font-size="20" fill="#1a1a1a" text-anchor="middle">644</text>
<text x="107.7" y="703.5" font-size="20" fill="#1a1a1a" text-anchor="middle">1459</text>
<text x="154.0" y="681.6" font-size="20" fill="#1a1a1a" text-anchor="middle">1443</text>
<text x="188.7" y="709.2" font-size="20" fill="#1a1a1a" text-anchor="middle">1407</text>
<text x="568.0" y="728.6" font-size="20" fill="#1a1a1a" text-anchor="middle">902</text>
<text x="599.5" y="747.6" font-size="20" fill="#1a1a1a" text-anchor="middle">855</text>
<text x="627.8" y="711.6" font-size="20" fill="#1a1a1a" text-anchor="middle">817</text>
<text x="684.2" y="699.8" font-size="20" fill="#1a1a1a" text-anchor="middle">761</text>
<text x="732.3" y="713.0" font-size="20" fill="#1a1a1a" text-anchor="middle">705</text>
<text x="809.8" y="752.5" font-size="20" fill="#1a1a1a" text-anchor="middle">603</text>
<text x="115.7" y="823.5" font-size="20" fill="#1a1a1a" text-anchor="middle">1459</text>
<text x="163.2" y="809.0" font-size="20" fill="#1a1a1a" text-anchor="middle">1406</text>
<text x="571.5" y="846.1" font-size="20" fill="#1a1a1a" text-anchor="middle">900</text>
<text x="608.8" y="832.1" font-size="20" fill="#1a1a1a" text-anchor="middle">855</text>
<text x="674.3" y="847.1" font-size="20" fill="#1a1a1a" text-anchor="middle">778</text>
<text x="807.0" y="853.6" font-size="20" fill="#1a1a1a" text-anchor="middle">603</text>
</svg></body></html>
